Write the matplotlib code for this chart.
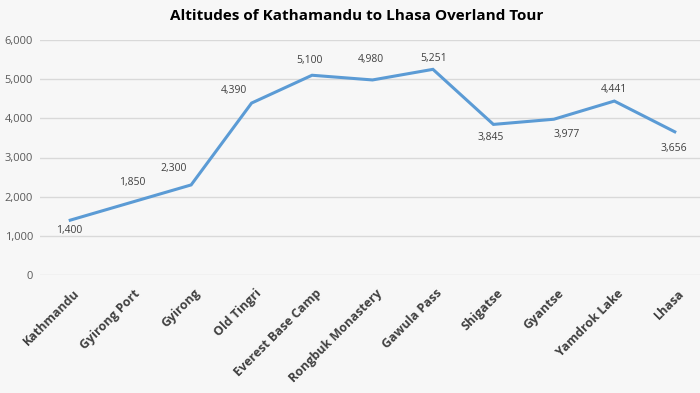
import matplotlib
matplotlib.use("Agg")
import matplotlib.pyplot as plt
from matplotlib.ticker import FuncFormatter
import matplotlib.transforms as mtransforms

plt.rcParams['font.family'] = ['Open Sans', 'DejaVu Sans']

places = ["Kathmandu", "Gyirong Port", "Gyirong", "Old Tingri", "Everest Base Camp",
          "Rongbuk Monastery", "Gawula Pass", "Shigatse", "Gyantse", "Yamdrok Lake", "Lhasa"]
altitudes = [1400, 1850, 2300, 4390, 5100, 4980, 5251, 3845, 3977, 4441, 3656]
yticks = [0, 1000, 2000, 3000, 4000, 5000, 6000]

# label offsets from each point, in pixels (dx, dy up)
label_dx = [-1, 2, -18, -18, -3, -2, 1, -3, 13, 0, -1]
label_dy = [-10, 20, 16, 13, 15, 20, 11, -13, -15, 12, -17]

bg = "#f7f7f7"
fig = plt.figure(figsize=(7, 3.93), dpi=100, facecolor=bg)
ax = fig.add_axes([40/700, 1 - 275/393, 665/700, (275-40)/393])
ax.set_facecolor(bg)

x = list(range(len(places)))
ax.plot(x, altitudes, color="#5b9bd5", linewidth=2.2, solid_joinstyle='miter', zorder=3)

for xi, v, dx, dy in zip(x, altitudes, label_dx, label_dy):
    ax.annotate(f"{v:,}", (xi, v), xytext=(dx * 0.72, dy * 0.72), textcoords="offset points",
                ha="center", va="center", fontsize=7.5, color="#404040")

ax.set_xlim(-0.5, 10.5)
ax.set_ylim(0, 6000)
ax.set_yticks(yticks)
ax.yaxis.set_major_formatter(FuncFormatter(lambda v, p: f"{int(v):,}"))
ax.grid(axis="y", color="#d9d9d9", linewidth=1)
ax.set_axisbelow(True)
for s in ax.spines.values():
    s.set_visible(False)
ax.tick_params(axis="y", length=0, labelsize=8, labelcolor="#595959", pad=5)
ax.tick_params(axis="x", length=0, pad=8.5)
ax.set_xticks(x)
ax.set_xticklabels(places, rotation=45, ha="right", rotation_mode="anchor",
                   fontsize=9, fontweight="bold", color="#404040")
offset = mtransforms.ScaledTranslation(2/72, 0, fig.dpi_scale_trans)
for lbl in ax.get_xticklabels():
    lbl.set_transform(lbl.get_transform() + offset)

fig.text(357/700, 1 - 16/393, "Altitudes of Kathamandu to Lhasa Overland Tour",
         ha="center", va="center", fontsize=11, fontweight="bold", color="#000000")

fig.savefig("out.png", dpi=100, facecolor=bg)
